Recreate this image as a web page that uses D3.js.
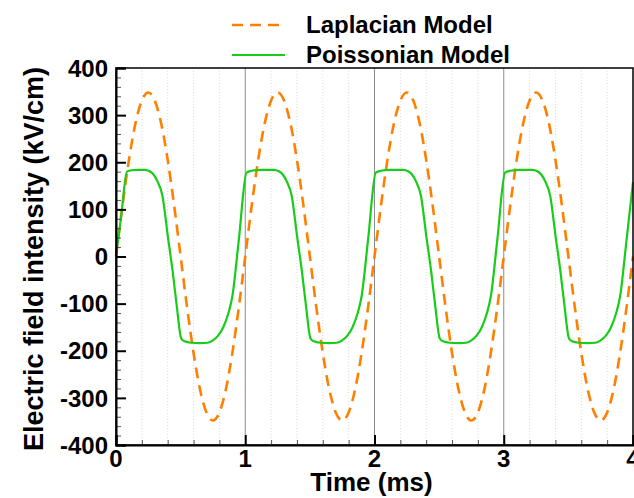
<!DOCTYPE html>
<html>
<head>
<meta charset="utf-8">
<script src="https://cdn.jsdelivr.net/npm/d3@7"></script>
<style>
  body { margin: 0; background: #fff; }
  text { font-family: "Liberation Sans", Arial, sans-serif; font-weight: bold; fill: #000; }
</style>
</head>
<body>
<div id="chart"></div>
<script>
// Laplacian model, sampled every 0.05 ms
const lapTime = d3.range(0, 4.0001, 0.05);
const lapValue = [
  0, 108, 205, 282, 331, 348, 331, 282, 205, 108, 0, -108, -205, -282, -331, -348, -331, -282, -205, -108,
  0, 108, 205, 282, 331, 348, 331, 282, 205, 108, 0, -108, -205, -282, -331, -348, -331, -282, -205, -108,
  0, 108, 205, 282, 331, 348, 331, 282, 205, 108, 0, -108, -205, -282, -331, -348, -331, -282, -205, -108,
  0, 108, 205, 282, 331, 348, 331, 282, 205, 108, 0, -108, -205, -282, -331, -348, -331, -282, -205, -108,
  0
];

// Poissonian model, points
const poisTime = [
  0, 0.04, 0.085, 0.12, 0.17, 0.22, 0.26, 0.29, 0.32, 0.36, 0.40, 0.44, 0.47, 0.505, 0.53, 0.58, 0.65, 0.71, 0.75, 0.79, 0.83, 0.87, 0.90, 0.95,
  1.01, 1.05, 1.12, 1.22, 1.26, 1.29, 1.32, 1.36, 1.40, 1.44, 1.47, 1.505, 1.53, 1.58, 1.65, 1.71, 1.75, 1.79, 1.83, 1.87, 1.90, 1.95,
  2.01, 2.05, 2.12, 2.22, 2.26, 2.29, 2.32, 2.36, 2.40, 2.44, 2.47, 2.505, 2.53, 2.58, 2.65, 2.71, 2.75, 2.79, 2.83, 2.87, 2.90, 2.95,
  3.01, 3.05, 3.12, 3.22, 3.26, 3.29, 3.32, 3.36, 3.40, 3.44, 3.47, 3.505, 3.53, 3.58, 3.65, 3.71, 3.75, 3.79, 3.83, 3.87, 3.90, 3.95,
  4.0
];
const poisValue = [
  0, 85, 180, 183, 184, 184, 181, 174, 160, 128, 45, -35, -105, -174, -180, -183, -184, -183, -178, -168, -150, -120, -85, 35,
  178, 182, 184, 184, 181, 174, 160, 128, 45, -35, -105, -174, -180, -183, -184, -183, -178, -168, -150, -120, -85, 35,
  178, 182, 184, 184, 181, 174, 160, 128, 45, -35, -105, -174, -180, -183, -184, -183, -178, -168, -150, -120, -85, 35,
  178, 182, 184, 184, 181, 174, 160, 128, 45, -35, -105, -174, -180, -183, -184, -183, -178, -168, -150, -120, -85, 35,
  158
];

const xTicks = [0, 1, 2, 3, 4];
const yTicks = [-400, -300, -200, -100, 0, 100, 200, 300, 400];
const seriesNames = ["Laplacian Model", "Poissonian Model"];

const width = 634, height = 498;
const margin = { left: 116, right: 1, top: 68, bottom: 52 };

const svg = d3.select("#chart").append("svg")
  .attr("width", width)
  .attr("height", height);

const x = d3.scaleLinear().domain([0, 4]).range([margin.left, width - margin.right]);
const y = d3.scaleLinear().domain([-400, 400]).range([height - margin.bottom - 1, margin.top]);

// vertical grid: dotted minors, solid majors
const minorX = d3.range(0.2, 4, 0.2).filter(v => Math.abs(v - Math.round(v)) > 0.01);
svg.append("g").selectAll("line").data(minorX).enter().append("line")
  .attr("x1", d => x(d)).attr("x2", d => x(d))
  .attr("y1", y(400)).attr("y2", y(-400))
  .attr("stroke", "#dadada").attr("stroke-width", 1).attr("stroke-dasharray", "1,2");
svg.append("g").selectAll("line").data([1, 2, 3]).enter().append("line")
  .attr("x1", d => x(d)).attr("x2", d => x(d))
  .attr("y1", y(400)).attr("y2", y(-400))
  .attr("stroke", "#8c8c8c").attr("stroke-width", 1);

// curves
const lapLine = d3.line()
  .x((d, i) => x(lapTime[i]))
  .y(d => y(d))
  .curve(d3.curveCardinal);
svg.append("path")
  .attr("d", lapLine(lapValue))
  .attr("fill", "none")
  .attr("stroke", "#ff8000")
  .attr("stroke-width", 2.6)
  .attr("stroke-dasharray", "11,7");

const poisLine = d3.line()
  .x((d, i) => x(poisTime[i]))
  .y(d => y(d))
  .curve(d3.curveMonotoneX);
svg.append("path")
  .attr("d", poisLine(poisValue))
  .attr("fill", "none")
  .attr("stroke", "#19cc19")
  .attr("stroke-width", 2.2);

// frame
svg.append("rect")
  .attr("x", x(0)).attr("y", y(400))
  .attr("width", x(4) - x(0)).attr("height", y(-400) - y(400))
  .attr("fill", "none").attr("stroke", "#000").attr("stroke-width", 1.5);

// axes with inward ticks
const yMinor = d3.range(-400, 401, 20).filter(v => v % 100 !== 0);
svg.append("g")
  .attr("transform", `translate(${x(0)},0)`)
  .call(d3.axisRight(y).tickValues(yMinor).tickSize(5).tickFormat(""))
  .call(g => g.select(".domain").remove())
  .call(g => g.selectAll("line").attr("stroke", "#555").attr("stroke-width", 1));
svg.append("g")
  .attr("transform", `translate(${x(0)},0)`)
  .call(d3.axisRight(y).tickValues(yTicks).tickSize(10).tickFormat(""))
  .call(g => g.select(".domain").attr("stroke-width", 2))
  .call(g => g.selectAll("line").attr("stroke-width", 2));
svg.append("g").selectAll("text").data(yTicks).enter().append("text")
  .attr("x", x(0) - 8).attr("y", d => y(d)).attr("dy", "0.36em")
  .attr("text-anchor", "end").style("font-size", "24px")
  .text(d => d);

svg.append("g")
  .attr("transform", `translate(0,${y(-400)})`)
  .call(d3.axisTop(x).tickValues(minorX).tickSize(5).tickFormat(""))
  .call(g => g.select(".domain").remove())
  .call(g => g.selectAll("line").attr("stroke", "#555").attr("stroke-width", 1));
svg.append("g")
  .attr("transform", `translate(0,${y(-400)})`)
  .call(d3.axisTop(x).tickValues(xTicks).tickSize(10).tickFormat(""))
  .call(g => g.select(".domain").attr("stroke-width", 2))
  .call(g => g.selectAll("line").attr("stroke-width", 2));
svg.append("g").selectAll("text").data(xTicks).enter().append("text")
  .attr("x", d => x(d)).attr("y", y(-400) + 22)
  .attr("text-anchor", "middle").style("font-size", "24px")
  .text(d => d);

// axis titles
svg.append("text")
  .attr("x", (x(0) + x(4)) / 2 - 3).attr("y", 491)
  .attr("text-anchor", "middle").style("font-size", "26px")
  .text("Time (ms)");
svg.append("text")
  .attr("transform", `translate(43,${259}) rotate(-90)`)
  .attr("text-anchor", "middle").style("font-size", "27px")
  .text("Electric field intensity (kV/cm)");

// legend
const legend = svg.append("g");
const legendColors = ["#ff8000", "#19cc19"];
const legendDash = ["11,7", null];
seriesNames.forEach((name, i) => {
  const ly = 25 + i * 30;
  legend.append("line")
    .attr("x1", 232).attr("x2", 285).attr("y1", ly).attr("y2", ly)
    .attr("stroke", legendColors[i]).attr("stroke-width", i === 0 ? 2.6 : 2.2)
    .attr("stroke-dasharray", legendDash[i]);
  legend.append("text")
    .attr("x", 306).attr("y", ly + 8)
    .style("font-size", "24px")
    .text(name);
});
</script>
</body>
</html>
